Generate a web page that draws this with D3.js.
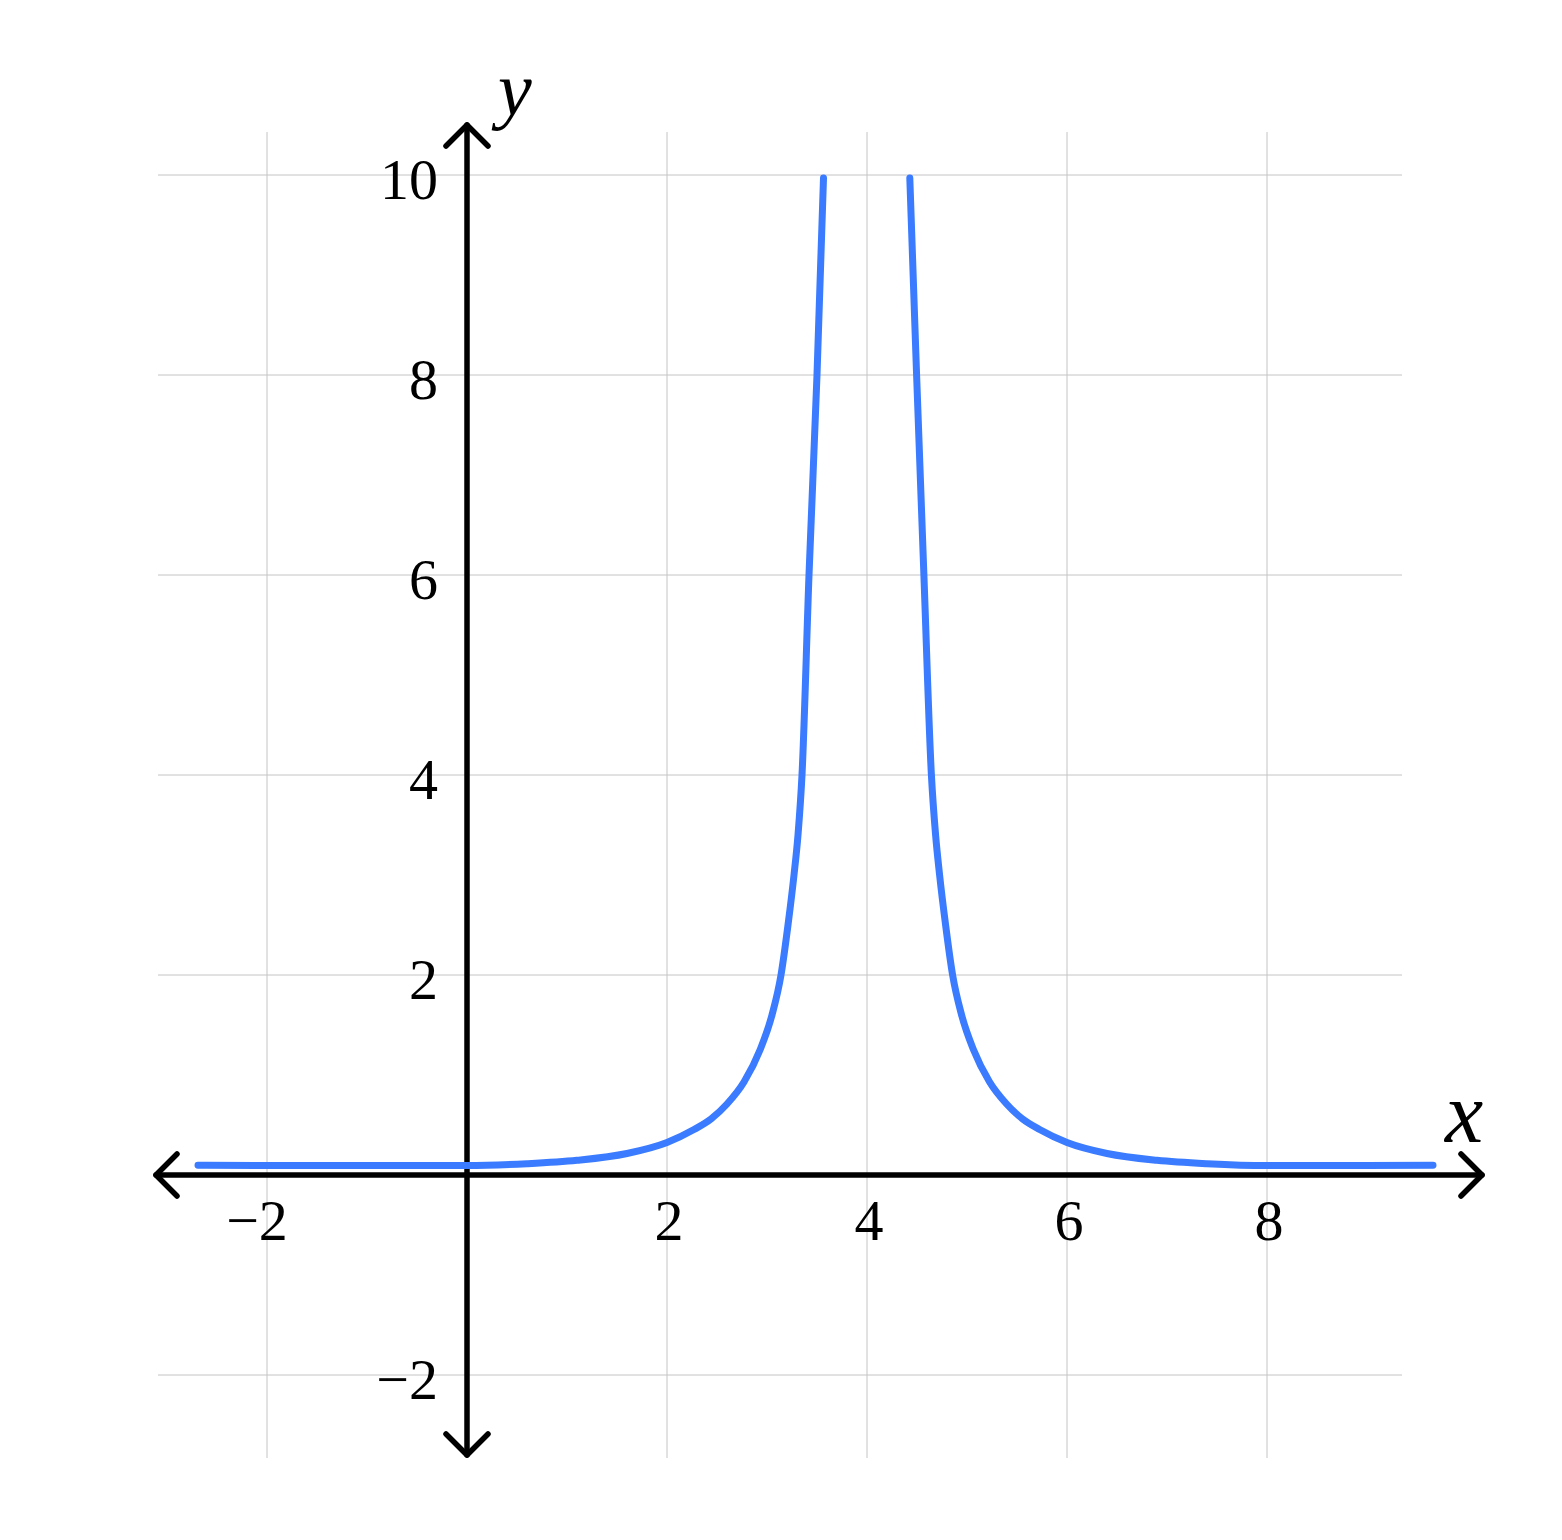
<!DOCTYPE html>
<html>
<head>
<meta charset="utf-8">
<script src="https://cdn.jsdelivr.net/npm/d3@7"></script>
<style>
  body { margin: 0; background: #fff; }
  text { font-family: 'Liberation Serif', 'DejaVu Serif', serif; fill: #000; }
</style>
</head>
<body>
<script>
const width = 1562;
const height = 1540;

// values
const xTicks = [-2, 2, 4, 6, 8];
const yTicks = [-2, 2, 4, 6, 8, 10];
const xGrid = [-2, 0, 2, 4, 6, 8];
const yGrid = [-2, 0, 2, 4, 6, 8, 10];

const leftX = [-2.69, -2, -1, 0, 0.6, 1.1, 1.6, 2.0, 2.27, 2.44, 2.6, 2.77, 2.93, 3.05, 3.14, 3.21, 3.27, 3.31, 3.35, 3.42, 3.5, 3.565];
const leftY = [0.097, 0.096, 0.094, 0.094, 0.113, 0.147, 0.215, 0.325, 0.455, 0.56, 0.71, 0.93, 1.25, 1.6, 2.0, 2.5, 3.0, 3.4, 4.0, 6.0, 8.0, 9.97];
const rightX = [4.428, 4.496, 4.569, 4.644, 4.686, 4.726, 4.786, 4.856, 4.946, 5.066, 5.226, 5.396, 5.556, 5.726, 6.0, 6.4, 6.9, 7.4, 8.0, 9.0, 9.66];
const rightY = [9.97, 8.0, 6.0, 4.0, 3.4, 3.0, 2.5, 2.0, 1.6, 1.25, 0.93, 0.71, 0.56, 0.455, 0.325, 0.215, 0.147, 0.113, 0.094, 0.095, 0.097];

const svg = d3.select('body').append('svg')
  .attr('width', width)
  .attr('height', height);

const x = d3.scaleLinear().domain([-3.09, 9.35]).range([158, 1402]);
const y = d3.scaleLinear().domain([-2.83, 10.43]).range([1458, 132]);

// grid
const grid = svg.append('g').attr('stroke', '#c4c4c4').attr('stroke-width', 1);
grid.selectAll('.vg').data(xGrid).enter().append('line')
  .attr('x1', d => x(d)).attr('x2', d => x(d))
  .attr('y1', y.range()[0]).attr('y2', y.range()[1]);
grid.selectAll('.hg').data(yGrid).enter().append('line')
  .attr('y1', d => y(d)).attr('y2', d => y(d))
  .attr('x1', x.range()[0]).attr('x2', x.range()[1]);

// axes with open arrowheads
const axes = svg.append('g')
  .attr('stroke', '#000')
  .attr('stroke-width', 5.5)
  .attr('stroke-linecap', 'round')
  .attr('stroke-linejoin', 'round')
  .attr('fill', 'none');

const xa0 = x(-3.11), xa1 = x(10.15), ya0 = y(10.5), ya1 = y(-2.8);
const arm = 21;
axes.append('line').attr('x1', xa0).attr('x2', xa1).attr('y1', y(0)).attr('y2', y(0));
axes.append('line').attr('x1', x(0)).attr('x2', x(0)).attr('y1', ya0).attr('y2', ya1);
axes.append('path').attr('d', `M${xa0 + arm},${y(0) - arm}L${xa0},${y(0)}L${xa0 + arm},${y(0) + arm}`);
axes.append('path').attr('d', `M${xa1 - arm},${y(0) - arm}L${xa1},${y(0)}L${xa1 - arm},${y(0) + arm}`);
axes.append('path').attr('d', `M${x(0) - arm},${ya0 + arm}L${x(0)},${ya0}L${x(0) + arm},${ya0 + arm}`);
axes.append('path').attr('d', `M${x(0) - arm},${ya1 - arm}L${x(0)},${ya1}L${x(0) + arm},${ya1 - arm}`);

const fmt = d => d < 0 ? '\u2212' + Math.abs(d) : String(d);

// tick labels
svg.append('g').selectAll('text').data(xTicks).enter().append('text')
  .attr('x', d => x(d) + (d < 0 ? -10 : 2))
  .attr('y', y(0) + 65)
  .attr('text-anchor', 'middle')
  .attr('font-size', 58)
  .text(fmt);

svg.append('g').selectAll('text').data(yTicks).enter().append('text')
  .attr('x', x(0) - 29)
  .attr('y', d => y(d) + 24)
  .attr('text-anchor', 'end')
  .attr('font-size', 58)
  .text(fmt);

// axis titles
svg.append('text').attr('x', 498).attr('y', 115)
  .attr('font-size', 76).attr('font-style', 'italic').text('y');
svg.append('text').attr('x', 1445).attr('y', 1142)
  .attr('font-size', 86).attr('font-style', 'italic').text('x');

// curve branches
const line = d3.line()
  .x(d => x(d[0]))
  .y(d => y(d[1]))
  .curve(d3.curveMonotoneX);

const branches = [d3.zip(leftX, leftY), d3.zip(rightX, rightY)];
svg.append('g').selectAll('path').data(branches).enter().append('path')
  .attr('d', line)
  .attr('fill', 'none')
  .attr('stroke', '#3a7bff')
  .attr('stroke-width', 7)
  .attr('stroke-linecap', 'round')
  .attr('stroke-linejoin', 'round');
</script>
</body>
</html>
